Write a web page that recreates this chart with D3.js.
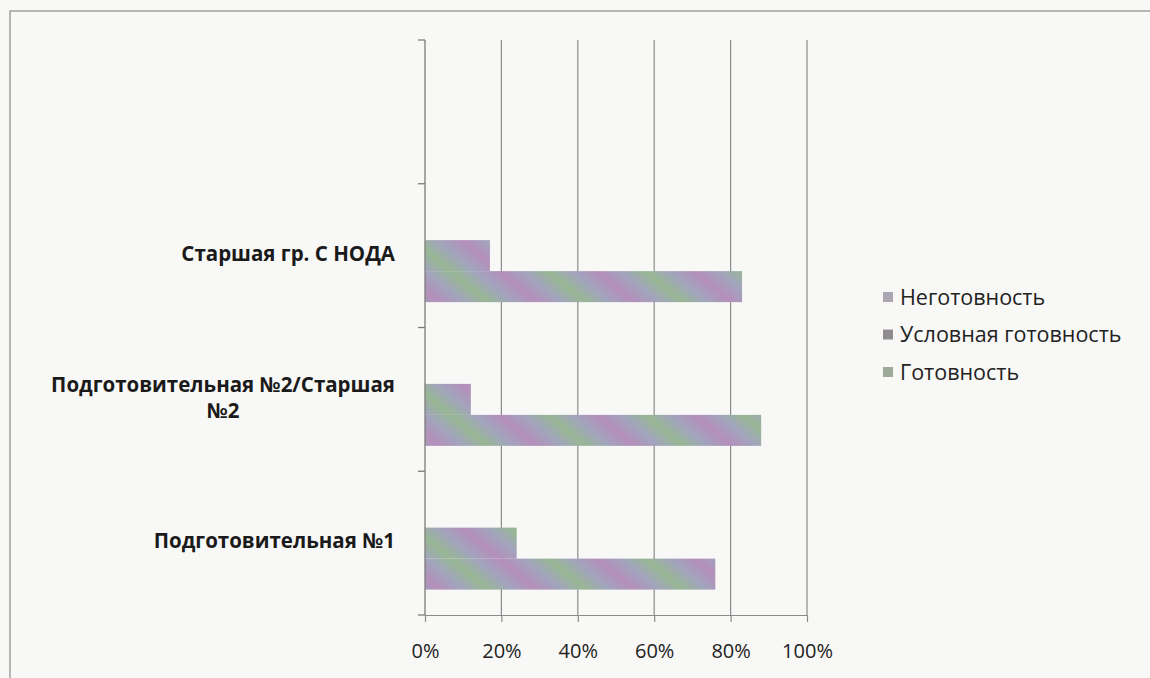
<!DOCTYPE html>
<html>
<head>
<meta charset="utf-8">
<script src="https://cdn.jsdelivr.net/npm/d3@7"></script>
<style>
  body { margin: 0; background: #f8f8f6; overflow: hidden; }
  svg { display: block; }
</style>
</head>
<body>
<div id="chart"></div>
<script>
// categories top-to-bottom (first one is an empty slot in the original)
const categories = ["", "Старшая гр. С НОДА", "Подготовительная №2/Старшая №2", "Подготовительная №1"];
const seriesNames = ["Неготовность", "Условная готовность", "Готовность"];
const negotovnost = [0, 0, 0, 0];
const uslovnaya = [0, 0.17, 0.12, 0.24];
const gotovnost = [0, 0.83, 0.88, 0.76];
const xTicks = [0, 0.2, 0.4, 0.6, 0.8, 1];
const legendColors = ["#aba6b2", "#8f8b90", "#9ea997"];

const W = 1150, H = 678;
const margin = { top: 40, right: 343, bottom: 63, left: 425 };
const width = W - margin.left - margin.right;
const height = H - margin.top - margin.bottom;

const svg = d3.select("#chart").append("svg")
  .attr("width", W).attr("height", H);

// moire-like fill of the scanned bars
const defs = svg.append("defs");
const grad = defs.append("linearGradient")
  .attr("id", "scan")
  .attr("gradientUnits", "userSpaceOnUse")
  .attr("spreadMethod", "reflect")
  .attr("x1", 0).attr("y1", 0).attr("x2", 20).attr("y2", -24);
grad.append("stop").attr("offset", "0%").attr("stop-color", "#b48fba");
grad.append("stop").attr("offset", "50%").attr("stop-color", "#a2a4bd");
grad.append("stop").attr("offset", "100%").attr("stop-color", "#98b794");

// outer frame
svg.append("rect")
  .attr("x", 10).attr("y", 11).attr("width", W + 20).attr("height", H)
  .attr("fill", "none").attr("stroke", "#8a8a8a").attr("stroke-width", 1.2);

const g = svg.append("g").attr("transform", `translate(${margin.left},${margin.top})`);

const x = d3.scaleLinear().domain([0, 1]).range([0, width]);
const y = d3.scaleBand().domain(categories).range([0, height]);
const inner = d3.scaleBand().domain(seriesNames).range([0, 93]);

// gridlines
g.selectAll(".grid").data(xTicks.slice(1)).enter().append("line")
  .attr("x1", d => x(d)).attr("x2", d => x(d))
  .attr("y1", 0).attr("y2", height)
  .attr("stroke", "#8c8c8c").attr("stroke-width", 1.2);

// bars
const rows = categories.map((c, i) => ({
  cat: c,
  vals: [negotovnost[i], uslovnaya[i], gotovnost[i]]
}));

const grp = g.selectAll(".grp").data(rows).enter().append("g")
  .attr("transform", d => `translate(0,${y(d.cat) + y.bandwidth() / 2 - inner.range()[1] / 2})`);

grp.selectAll("rect")
  .data(d => d.vals.map((v, j) => ({ s: seriesNames[j], v })))
  .enter().append("rect")
  .filter(d => d.v > 0)
  .attr("x", 0)
  .attr("y", d => inner(d.s))
  .attr("width", d => x(d.v))
  .attr("height", inner.bandwidth())
  .attr("fill", "url(#scan)");

// x axis
const xAxis = g.append("g")
  .attr("transform", `translate(0,${height})`)
  .call(d3.axisBottom(x).tickValues(xTicks).tickFormat(d3.format(".0%")).tickSizeInner(7).tickSizeOuter(0));
xAxis.select(".domain").attr("stroke", "#8c8c8c").attr("stroke-width", 1.2);
xAxis.selectAll(".tick line").attr("stroke", "#8c8c8c").attr("stroke-width", 1.2);
xAxis.selectAll("text")
  .attr("y", 43).attr("dy", "0")
  .style("font-family", "'Open Sans', sans-serif")
  .style("font-size", "20px")
  .attr("fill", "#222");

// y axis line + ticks at band boundaries
g.append("line")
  .attr("x1", 0).attr("x2", 0).attr("y1", 0).attr("y2", height)
  .attr("stroke", "#7a7a7a").attr("stroke-width", 1.3);
const bounds = categories.map(c => y(c)).concat([height]);
g.selectAll(".ytick").data(bounds).enter().append("line")
  .attr("x1", -7).attr("x2", 0)
  .attr("y1", d => d).attr("y2", d => d)
  .attr("stroke", "#7a7a7a").attr("stroke-width", 1.3);

// category labels (wrapped like the original)
const labelLines = {
  "Старшая гр. С НОДА": ["Старшая гр. С НОДА"],
  "Подготовительная №2/Старшая №2": ["Подготовительная №2/Старшая", "№2"],
  "Подготовительная №1": ["Подготовительная №1"]
};
categories.filter(c => c).forEach(c => {
  const lines = labelLines[c];
  const cy = y(c) + y.bandwidth() / 2 - 2;
  const t = g.append("text")
    .style("font-family", "'Open Sans', sans-serif")
    .style("font-size", "20.5px")
    .style("font-weight", "bold")
    .attr("fill", "#1a1a1a");
  lines.forEach((l, k) => {
    t.append("tspan")
      .attr("y", cy + (k - (lines.length - 1) / 2) * 26)
      .attr("dy", "0.35em")
      .text(l);
  });
  // right-align block, center-align lines inside it
  const tspans = t.selectAll("tspan").nodes();
  const maxW = d3.max(tspans, n => n.getComputedTextLength());
  const right = -30;
  tspans.forEach(n => {
    d3.select(n).attr("x", right - maxW / 2).attr("text-anchor", "middle");
  });
});

// legend
const legend = svg.append("g").attr("transform", "translate(883,297)");
const li = legend.selectAll(".li").data(seriesNames).enter().append("g")
  .attr("transform", (d, i) => `translate(0,${i * 37.5})`);
li.append("rect")
  .attr("x", 0).attr("y", -5).attr("width", 10).attr("height", 10)
  .attr("fill", (d, i) => legendColors[i]);
li.append("text")
  .attr("x", 17).attr("y", 0).attr("dy", "0.35em")
  .style("font-family", "'Open Sans', sans-serif")
  .style("font-size", "21.5px")
  .attr("fill", "#222")
  .text(d => d);
</script>
</body>
</html>
